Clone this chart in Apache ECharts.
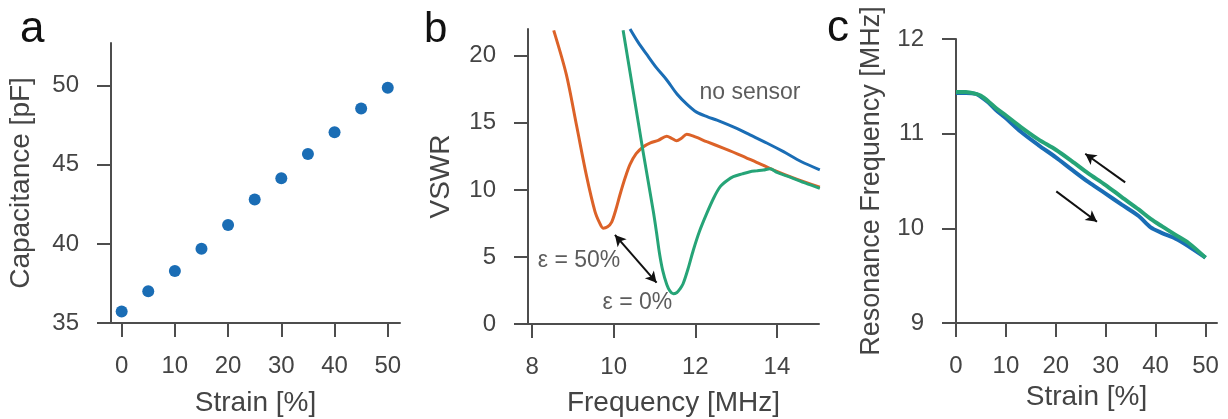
<!DOCTYPE html>
<html>
<head>
<meta charset="utf-8">
<script src="https://cdn.jsdelivr.net/npm/echarts@6/dist/echarts.min.js"></script>
<style>
html,body{margin:0;padding:0;background:#fff;}
#chart{width:1228px;height:419px;}
</style>
</head>
<body>
<div id="chart"></div>
<script>
// ---- Panel a: capacitance vs strain ----
const strainA = [0, 5, 10, 15, 20, 25, 30, 35, 40, 45, 50];
const capacitance = [35.72, 37.01, 38.28, 39.70, 41.19, 42.80, 44.15, 45.68, 47.06, 48.56, 49.87];
const ticksAX = [0, 10, 20, 30, 40, 50];
const ticksAY = [35, 40, 45, 50];

// ---- Panel b: VSWR vs frequency ----
const freqOrange = [8.53, 8.84, 9.09, 9.33, 9.54, 9.66, 9.74, 9.85, 9.95, 10.05, 10.15, 10.28, 10.4, 10.55, 10.72, 10.9, 11.09, 11.3, 11.42, 11.54, 11.66, 11.79, 12.0, 12.28, 12.7, 13.1, 13.5, 13.92, 14.4, 15.05];
const vswrOrange = [21.9, 18.6, 14.8, 11.1, 8.4, 7.5, 7.15, 7.25, 7.6, 8.5, 9.6, 10.9, 11.9, 12.7, 13.2, 13.5, 13.7, 14.0, 13.85, 13.67, 13.85, 14.15, 13.95, 13.6, 13.1, 12.6, 12.05, 11.48, 10.9, 10.2];
const freqGreen = [10.23, 10.48, 10.72, 10.97, 11.05, 11.12, 11.2, 11.3, 11.38, 11.46, 11.55, 11.62, 11.7, 11.82, 11.95, 12.1, 12.28, 12.45, 12.61, 12.78, 12.93, 13.15, 13.34, 13.5, 13.67, 13.83, 14.0, 14.32, 14.7, 15.05];
const vswrGreen = [21.9, 17.3, 12.85, 8.4, 6.8, 5.3, 4.0, 2.95, 2.45, 2.25, 2.35, 2.6, 3.0, 4.1, 5.5, 6.9, 8.25, 9.4, 10.24, 10.7, 10.99, 11.2, 11.36, 11.42, 11.48, 11.58, 11.3, 10.95, 10.5, 10.12];
const freqBlue = [10.4, 10.6, 10.81, 11.05, 11.3, 11.55, 11.79, 12.03, 12.3, 12.53, 13.0, 13.34, 13.75, 14.16, 14.6, 15.05];
const vswrBlue = [22.0, 21.0, 20.1, 19.1, 18.2, 17.15, 16.4, 15.8, 15.45, 15.2, 14.6, 14.1, 13.5, 12.85, 12.1, 11.5];
const ticksBX = [8, 10, 12, 14];
const ticksBY = [0, 5, 10, 15, 20];

// ---- Panel c: resonance frequency vs strain ----
const strainC = [0, 2, 4, 5, 6.5, 8, 9.84, 13, 16.5, 20, 23.2, 26.5, 29.9, 33.2, 36.6, 39, 41.3, 44, 46.6, 50];
const resGreen = [11.44, 11.44, 11.42, 11.4, 11.34, 11.27, 11.2, 11.07, 10.94, 10.83, 10.71, 10.58, 10.46, 10.33, 10.2, 10.1, 10.02, 9.93, 9.845, 9.69];
const resBlue = [11.43, 11.43, 11.42, 11.39, 11.33, 11.25, 11.17, 11.02, 10.88, 10.75, 10.62, 10.49, 10.37, 10.25, 10.13, 10.01, 9.95, 9.89, 9.81, 9.69];
const ticksCX = [0, 10, 20, 30, 40, 50];
const ticksCY = [9, 10, 11, 12];

// annotations (data coordinates)
const annotB = [[13.34, 17.23, 'no sensor'], [9.15, 4.7, 'ε = 50%'], [10.58, 1.57, 'ε = 0%']];
const arrowB = [[10.03, 6.64], [11.05, 3.08]];
const arrowCUp = [[33.9, 10.485], [25.9, 10.788]];
const arrowCDown = [[20.1, 10.39], [28.25, 10.07]];

const BLUE = '#1a6db5', ORANGE = '#dc6228', GREEN = '#26a477';
const FONT = "'Liberation Sans', Arial, sans-serif";
const AX = '#4d4d4d', TXT = '#444444';

function zip(a, b) { return a.map((v, i) => [v, b[i]]); }

function xAxisCfg(gi, min, max, ticks, name, gap) {
  return {
    type: 'value', gridIndex: gi, min: min, max: max,
    name: name, nameLocation: 'middle', nameGap: gap,
    nameTextStyle: { fontFamily: FONT, fontSize: 28, color: TXT },
    axisLine: { show: true, onZero: false, lineStyle: { color: AX, width: 2 } },
    axisTick: { show: true, length: 14, customValues: ticks, lineStyle: { color: AX, width: 2 } },
    axisLabel: { customValues: ticks, margin: 31, fontFamily: FONT, fontSize: 24, color: TXT },
    splitLine: { show: false }
  };
}
function yAxisCfg(gi, min, max, ticks, name, gap, nameSize) {
  return {
    type: 'value', gridIndex: gi, min: min, max: max,
    name: name, nameLocation: 'middle', nameGap: gap,
    nameTextStyle: { fontFamily: FONT, fontSize: nameSize, color: TXT },
    axisLine: { show: true, onZero: false, lineStyle: { color: AX, width: 2 } },
    axisTick: { show: true, length: 14, customValues: ticks, lineStyle: { color: AX, width: 2 } },
    axisLabel: { customValues: ticks, margin: 32, fontFamily: FONT, fontSize: 24, color: TXT },
    splitLine: { show: false }
  };
}

const arrowLine = (pts) => [{ coord: pts[0] }, { coord: pts[1] }];

const chart = echarts.init(document.getElementById('chart'), null, { renderer: 'canvas' });
chart.setOption({
  backgroundColor: '#ffffff',
  animation: false,
  grid: [
    { left: 111, top: 43, width: 289, height: 280, outerBoundsMode: 'none', containLabel: false },
    { left: 528, top: 29, width: 291, height: 295, outerBoundsMode: 'none', containLabel: false },
    { left: 956, top: 39, width: 261, height: 284, outerBoundsMode: 'none', containLabel: false }
  ],
  xAxis: [
    xAxisCfg(0, -2, 52.3, ticksAX, 'Strain [%]', 66),
    xAxisCfg(1, 7.9, 15.03, ticksBX, 'Frequency [MHz]', 65),
    xAxisCfg(2, 0, 52.3, ticksCX, 'Strain [%]', 57)
  ],
  yAxis: [
    yAxisCfg(0, 35, 52.7, ticksAY, 'Capacitance [pF]', 76, 28),
    yAxisCfg(1, 0, 22, ticksBY, 'VSWR', 73, 28),
    yAxisCfg(2, 9, 12, ticksCY, 'Resonance Frequency [MHz]', 71, 27)
  ],
  graphic: [
    { type: 'text', left: 20, top: 8, style: { text: 'a', font: "44px 'Liberation Sans', Arial", fill: '#111' } },
    { type: 'text', left: 424, top: 9, style: { text: 'b', font: "42px 'Liberation Sans', Arial", fill: '#111' } },
    { type: 'text', left: 827, top: 7, style: { text: 'c', font: "44px 'Liberation Sans', Arial", fill: '#111' } }
  ],
  series: [
    {
      type: 'scatter', xAxisIndex: 0, yAxisIndex: 0, symbolSize: 12,
      itemStyle: { color: BLUE, opacity: 1 }, data: zip(strainA, capacitance)
    },
    {
      type: 'line', xAxisIndex: 1, yAxisIndex: 1, showSymbol: false, smooth: 0.3,
      lineStyle: { color: BLUE, width: 3 }, data: zip(freqBlue, vswrBlue)
    },
    {
      type: 'line', xAxisIndex: 1, yAxisIndex: 1, showSymbol: false, smooth: 0.3,
      lineStyle: { color: ORANGE, width: 3 }, data: zip(freqOrange, vswrOrange)
    },
    {
      type: 'line', xAxisIndex: 1, yAxisIndex: 1, showSymbol: false, smooth: 0.3,
      lineStyle: { color: GREEN, width: 3 }, data: zip(freqGreen, vswrGreen)
    },
    {
      type: 'scatter', xAxisIndex: 1, yAxisIndex: 1, symbolSize: 0, silent: true,
      data: annotB,
      label: { show: true, position: 'inside', formatter: (p) => p.value[2],
               fontFamily: FONT, fontSize: 23, color: '#333' },
      markLine: {
        silent: true, symbol: ['arrow', 'arrow'], symbolSize: [9, 11],
        lineStyle: { color: '#111', width: 2, type: 'solid' }, label: { show: false },
        data: [arrowLine(arrowB)]
      }
    },
    {
      type: 'line', xAxisIndex: 2, yAxisIndex: 2, showSymbol: false, smooth: 0.3,
      lineStyle: { color: BLUE, width: 4 }, data: zip(strainC, resBlue)
    },
    {
      type: 'line', xAxisIndex: 2, yAxisIndex: 2, showSymbol: false, smooth: 0.3,
      lineStyle: { color: GREEN, width: 4 }, data: zip(strainC, resGreen),
      markLine: {
        silent: true, symbol: ['none', 'arrow'], symbolSize: [9, 11],
        lineStyle: { color: '#111', width: 2, type: 'solid' }, label: { show: false },
        data: [arrowLine(arrowCUp), arrowLine(arrowCDown)]
      }
    }
  ]
});
</script>
</body>
</html>
